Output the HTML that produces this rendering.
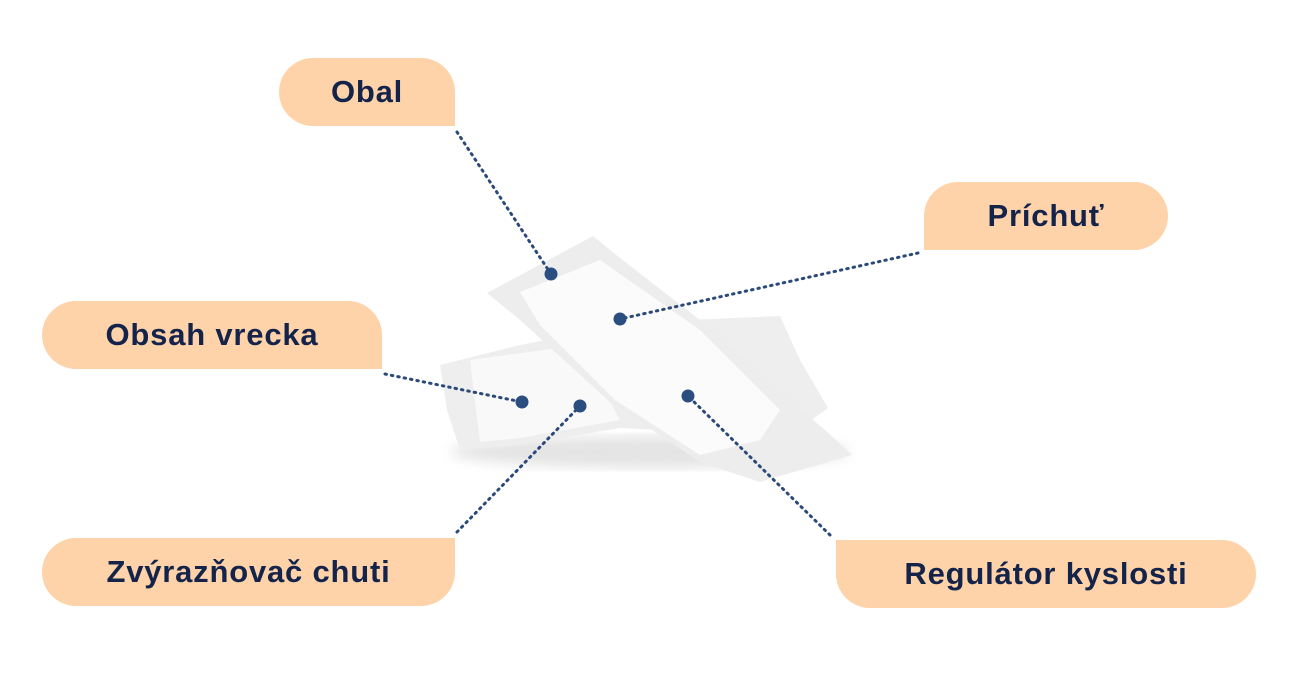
<!DOCTYPE html>
<html><head><meta charset="utf-8"><style>
body{margin:0;width:1296px;height:688px;background:#fff;position:relative;overflow:hidden;font-family:"Liberation Sans",sans-serif}
.b{position:absolute;background:#fed3aa;color:#14234a;font-weight:bold;font-size:31px;display:flex;align-items:center;justify-content:center;height:68px;border-radius:34px;letter-spacing:0.8px}
svg{position:absolute;left:0;top:0}
</style></head><body>
<svg width="1296" height="688">
<defs><filter id="s"><feGaussianBlur stdDeviation="6"/></filter></defs>
<ellipse cx="650" cy="452" rx="200" ry="16" fill="#e4e4e4" filter="url(#s)"/>
<polygon points="440,365 520,345 640,322 780,316 800,360 828,408 800,428 700,432 620,428 520,445 460,450 447,410" fill="#eeeeee"/>
<polygon points="470,360 580,345 620,420 520,438 480,442" fill="#f9f9f9"/>
<polygon points="487,293 593,236 620,258 700,320 790,400 825,430 852,455 760,482 700,462 610,402 520,320" fill="#ededed"/>
<polygon points="520,292 600,260 700,330 780,410 760,440 700,455 615,400 540,325" fill="#fbfbfb"/>
<g stroke="#2b4a7a" stroke-width="3" stroke-dasharray="1.5 5" stroke-linecap="round" fill="none">
<line x1="457" y1="132" x2="551" y2="274"/>
<line x1="918" y1="253" x2="620" y2="319"/>
<line x1="385" y1="374" x2="522" y2="402"/>
<line x1="457" y1="532" x2="580" y2="406"/>
<line x1="830" y1="535" x2="688" y2="396"/>
</g>
<g fill="#2b4e80">
<circle cx="551" cy="274" r="6.5"/><circle cx="620" cy="319" r="6.5"/><circle cx="522" cy="402" r="6.5"/><circle cx="580" cy="406" r="6.5"/><circle cx="688" cy="396" r="6.5"/>
</g>
</svg>
<div class="b" style="left:279px;top:58px;width:176px;border-bottom-right-radius:0">Obal</div>
<div class="b" style="left:924px;top:182px;width:244px;border-bottom-left-radius:0">Príchuť</div>
<div class="b" style="left:42px;top:301px;width:340px;border-bottom-right-radius:0">Obsah vrecka</div>
<div class="b" style="left:42px;top:538px;width:413px;border-top-right-radius:0">Zvýrazňovač chuti</div>
<div class="b" style="left:836px;top:540px;width:420px;border-top-left-radius:0">Regulátor kyslosti</div>
</body></html>
